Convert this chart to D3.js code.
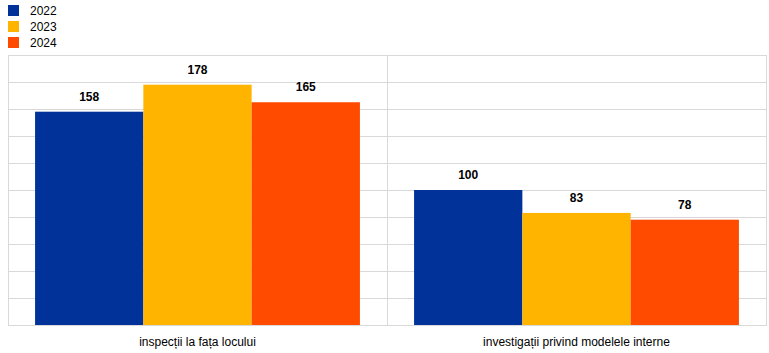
<!DOCTYPE html>
<html><head><meta charset="utf-8">
<script src="https://cdn.jsdelivr.net/npm/d3@7"></script>
<style>body{margin:0;background:#fff}svg{display:block;font-family:Arial,"Liberation Sans",sans-serif}</style>
</head><body><svg id="c" width="769" height="353"></svg>
<script>
const categories = ["inspecții la fața locului", "investigații privind modelele interne"];
const seriesNames = ["2022", "2023", "2024"];
const v2022 = [158, 100];
const v2023 = [178, 83];
const v2024 = [165, 78];
const colors = ["#003299", "#FFB400", "#FF4B00"];
const yTicks = [0,20,40,60,80,100,120,140,160,180,200];

const values = [v2022, v2023, v2024];
const svg = d3.select("#c");
const L = 8, R = 766, T = 55, B = 325;
const x = d3.scaleBand().domain(categories).range([L, R]).paddingInner(0).paddingOuter(0);
const inner = d3.scaleBand().domain(seriesNames).range([0, x.bandwidth()]).paddingOuter(0.25).paddingInner(0);
const y = d3.scaleLinear().domain([0, 200]).range([B, T]);

const grid = "#d9d9d9";
svg.append("g").selectAll("line").data(yTicks).join("line")
  .attr("x1", L).attr("x2", R).attr("y1", d => Math.round(y(d)) + 0.5).attr("y2", d => Math.round(y(d)) + 0.5)
  .attr("stroke", grid).attr("stroke-width", 1);
const vx = [L, ...categories.map(c => x(c) + x.bandwidth())];
svg.append("g").selectAll("line").data(vx).join("line")
  .attr("x1", d => Math.round(d) + 0.5).attr("x2", d => Math.round(d) + 0.5).attr("y1", T).attr("y2", B + 1)
  .attr("stroke", grid).attr("stroke-width", 1);

seriesNames.forEach((s, si) => {
  const g = svg.append("g");
  g.selectAll("rect").data(categories).join("rect")
    .attr("x", c => x(c) + inner(s)).attr("width", inner.bandwidth())
    .attr("y", (c, i) => y(values[si][i])).attr("height", (c, i) => y(0) - y(values[si][i]))
    .attr("fill", colors[si]);
  g.selectAll("text").data(categories).join("text")
    .attr("x", c => x(c) + inner(s) + inner.bandwidth() / 2)
    .attr("y", (c, i) => y(values[si][i]) - 11)
    .attr("text-anchor", "middle").attr("font-size", 12).attr("font-weight", "bold").attr("fill", "#000")
    .text((c, i) => values[si][i]);
});

svg.append("g").selectAll("text").data(categories).join("text")
  .attr("x", c => x(c) + x.bandwidth() / 2).attr("y", 346)
  .attr("text-anchor", "middle").attr("font-size", 12).attr("fill", "#000").text(c => c);

const lg = svg.append("g");
seriesNames.forEach((s, i) => {
  lg.append("rect").attr("x", 8).attr("y", 5 + i * 16).attr("width", 11).attr("height", 11).attr("fill", colors[i]);
  lg.append("text").attr("x", 30).attr("y", 15 + i * 16).attr("font-size", 12).attr("fill", "#000").text(s);
});
</script></body></html>
